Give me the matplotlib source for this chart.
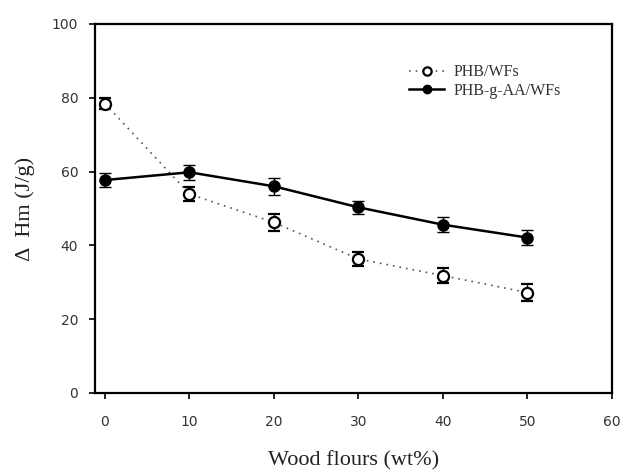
import matplotlib
matplotlib.use("Agg")
import matplotlib.pyplot as plt
from matplotlib.lines import Line2D

# Data
wood_flour = [0, 10, 20, 30, 40, 50]
phb_wf = [78.4, 53.9, 46.2, 36.3, 31.8, 27.2]
phb_wf_err = [1.5, 2.0, 2.2, 1.8, 2.0, 2.2]
phb_aa_wf = [57.7, 59.8, 56.0, 50.3, 45.6, 42.1]
phb_aa_wf_err = [2.0, 2.0, 2.3, 1.8, 2.0, 2.0]

x_ticks = [0, 10, 20, 30, 40, 50, 60]
y_ticks = [0, 20, 40, 60, 80, 100]


def main():
    fig = plt.figure(figsize=(6.2, 4.7), dpi=100)
    ax = fig.add_axes([0.153, 0.164, 0.834, 0.785])

    open_style = dict(color="#555555", linestyle=(0, (1, 3)), linewidth=1.2,
                      marker="o", markersize=8, markerfacecolor="white",
                      markeredgecolor="black", markeredgewidth=1.6)
    filled_style = dict(color="black", linestyle="-", linewidth=1.8,
                        marker="o", markersize=8, markerfacecolor="black",
                        markeredgecolor="black")

    ax.errorbar(wood_flour, phb_wf, yerr=phb_wf_err, ecolor="black",
                elinewidth=1, capsize=4, **open_style)
    ax.errorbar(wood_flour, phb_aa_wf, yerr=phb_aa_wf_err, ecolor="black",
                elinewidth=1, capsize=4, **filled_style)

    ax.set_xlim(-1.2, 60)
    ax.set_ylim(0, 100)
    ax.set_xticks(x_ticks)
    ax.set_yticks(y_ticks)
    ax.tick_params(direction="out", length=4, width=1.2, labelsize=10,
                   labelcolor="#333333")
    ax.tick_params(axis="x", pad=12)
    ax.tick_params(axis="y", pad=8)
    for sp in ax.spines.values():
        sp.set_linewidth(1.6)

    ax.set_xlabel("Wood flours (wt%)", fontfamily="Liberation Serif",
                  fontsize=16, labelpad=16, color="#222222")
    ax.set_ylabel("\u0394  Hm (J/g)", fontfamily="Liberation Serif",
                  fontsize=16, labelpad=12, color="#222222")

    handles = [Line2D([], [], markersize=6, **{k: v for k, v in open_style.items() if k != "markersize"}),
               Line2D([], [], markersize=6, **{k: v for k, v in filled_style.items() if k != "markersize"})]
    ax.legend(handles, ["PHB/WFs", "PHB-g-AA/WFs"], loc="upper left",
              bbox_to_anchor=(0.58, 0.93), frameon=False,
              prop={"family": "Liberation Serif", "size": 11.5},
              handlelength=2.2, labelspacing=0.15, handletextpad=0.6,
              labelcolor="#333333")

    fig.savefig("out.png", dpi=100)


if __name__ == "__main__":
    main()
